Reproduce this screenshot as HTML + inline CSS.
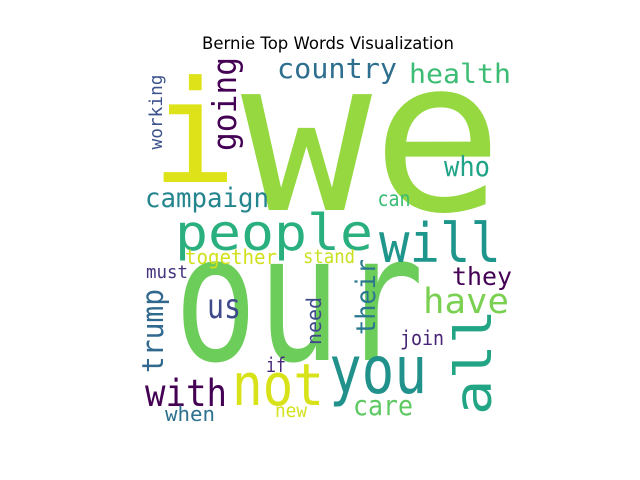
<!DOCTYPE html>
<html><head><meta charset="utf-8"><style>
html,body{margin:0;padding:0;background:#fff;width:640px;height:480px;overflow:hidden}
svg text{font-family:"DejaVu Sans Mono","Liberation Mono",monospace}
</style></head><body>
<svg id="chart" width="640" height="480" viewBox="0 0 640 480">
<text x="328" y="49" text-anchor="middle" font-size="16.5" style="font-family:'DejaVu Sans','Liberation Sans',sans-serif" fill="#000">Bernie Top Words Visualization</text>
<g id="words"></g>
</svg>
<script>
const words = ["we","i","our","people","will","country","health","who","campaign","can","together","stand","they","must","us","have","join","if","with","not","you","care","when","new","going","working","trump","their","need","all"];
const sizes = [212,142,176,50,54,28,27,28,27,21,20,19,25,18,34,35,20,20,37,58,66,28,20,19,33,18,29,27,20,51];
const colors = ["#95d840","#dde318","#6ccd5a","#2ab07f","#1f968b","#2e6e8e","#3dbc74","#20a386","#25858e","#3bbb75","#d0e11c","#c8e020","#440154","#46337e","#3e4a89","#7ad151","#482475","#482878","#440154","#d8e219","#21918c","#5ec962","#2c728e","#d2e21b","#3e4989","#21a585"];
// layout per word: center x, baseline y, text length, rotated flag
const cx = [372,194,299,274,440,337,460,467,207,394,231,329,482,167,224,466,422,276,186,278,378,383,190,291,236,162,163,375,321,491];
const by = [210,182,360,250,262,78,83,176,207,206,264,263,285,278,318,313,345,372,406,405,393,415,421,417,104,112,331,297,321,362];
const len = [262,40,250,198,122,120,102,46,124,33,92,52,60,42,34,86,44,20,82,92,98,60,50,32,94,75,84,76,48,106];
const rot = [0,0,0,0,0,0,0,0,0,0,0,0,0,0,0,0,0,0,0,0,0,0,0,0,1,1,1,1,1,1];
const extraColors = ["#440154","#3b528b","#31688e","#2a788e"];
const g = document.getElementById('words');
const NS = 'http://www.w3.org/2000/svg';
words.forEach((w, k) => {
  const t = document.createElementNS(NS, 'text');
  
  
  t.setAttribute('font-size', sizes[k]);
  t.setAttribute('text-anchor', 'middle');
  let col = k < 24 ? colors[k] : (k < 28 ? extraColors[k - 24] : colors[k - 4]);
  t.setAttribute('fill', col);
  if (w !== 'i') {
    t.setAttribute('textLength', len[k]);
    t.setAttribute('lengthAdjust', 'spacingAndGlyphs');
  }
  if (rot[k]) {
    t.setAttribute('x', 0);
    t.setAttribute('y', 0);
    t.setAttribute('transform', 'translate(' + cx[k] + ',' + by[k] + ') rotate(-90)');
  } else {
    t.setAttribute('x', cx[k]);
    t.setAttribute('y', by[k]);
  }
  t.textContent = w;
  g.appendChild(t);
});
</script>
</body></html>
